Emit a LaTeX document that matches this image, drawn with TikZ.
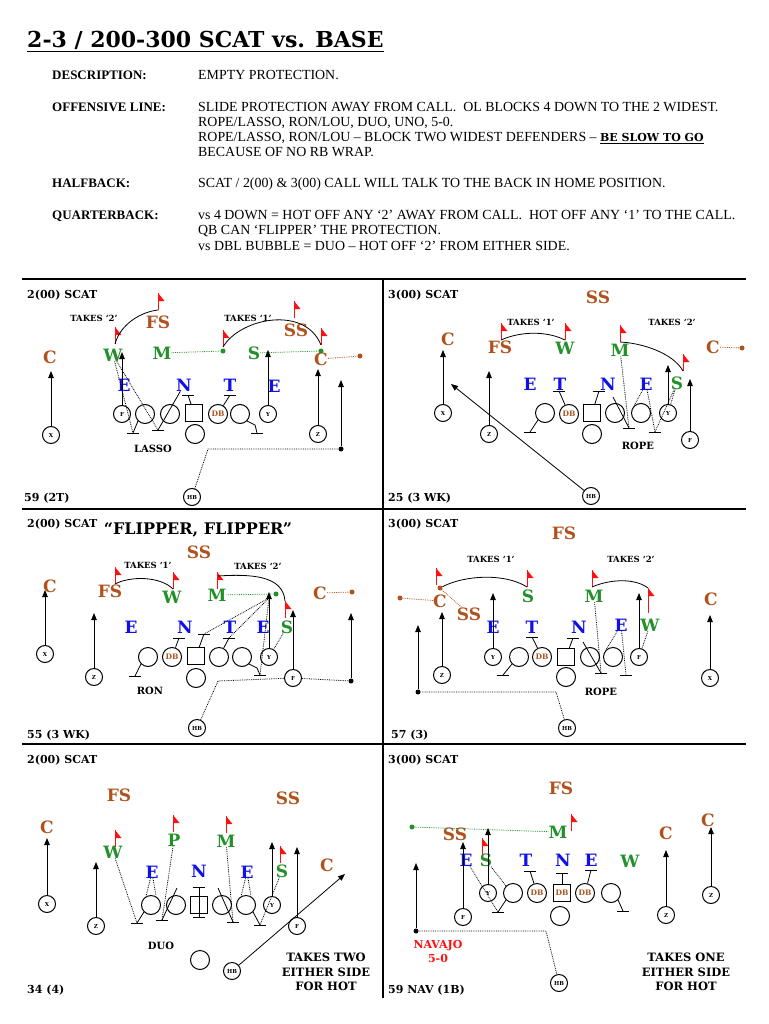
\documentclass[tikz,border=0pt]{standalone}
\usepackage{fontspec}
\setmainfont{Liberation Serif}
\newfontfamily\bkfont{DejaVu Serif}
\usetikzlibrary{arrows.meta}
\definecolor{secBrown}{HTML}{B0521E}
\definecolor{dlBlue}{HTML}{1010E8}
\definecolor{lbGreen}{HTML}{23902A}
\definecolor{flagRed}{HTML}{FF1010}

\tikzset{
  pennant/.pic={\draw[flagRed,line width=1pt] (0,0) -- (0,-17);
                \fill[flagRed] (0,-17) -- (6.5,-9) -- (0,-9) -- cycle;},
  blockbar/.pic={\draw[line width=1pt] (-6,0) -- (6,0);}
}

\begin{document}
\begin{tikzpicture}[x=1pt,y=-1pt,
  lbl/.style={font=\bkfont\bfseries\fontsize{11}{11}\selectfont,anchor=west,inner sep=0},
  takes/.style={font=\bkfont\bfseries\fontsize{8.5}{8.5}\selectfont,inner sep=0},
  dl/.style={font=\bkfont\bfseries\fontsize{17}{17}\selectfont,inner sep=0,text=dlBlue},
  lb/.style={dl,text=lbGreen},
  sec/.style={dl,text=secBrown},
  pl/.style={circle,draw,fill=white,line width=1pt,minimum size=17pt,inner sep=0,
             font=\bkfont\bfseries\fontsize{5.5}{5.5}\selectfont},
  ol/.style={circle,draw,fill=white,line width=1pt,minimum size=19pt,inner sep=0},
  dbc/.style={ol,text=secBrown,font=\bkfont\bfseries\fontsize{7.5}{7.5}\selectfont},
  ctr/.style={draw,fill=white,line width=1pt,minimum size=17pt,inner sep=0},
  run/.style={-{Triangle[length=7pt,width=5.5pt]},line width=0.8pt},
  hot/.style={densely dotted,line width=0.8pt},
  blk/.style={line width=0.8pt},
  ptdot/.style={circle,fill,inner sep=0,minimum size=5pt},
  call/.style={font=\bkfont\bfseries\fontsize{10}{10}\selectfont,inner sep=0},
  hotnote/.style={font=\bkfont\bfseries\fontsize{11.5}{14.5}\selectfont,align=center,inner sep=0},
  hd/.style={font=\bfseries\fontsize{13}{13}\selectfont,anchor=base west,inner sep=0},
  tx/.style={font=\fontsize{13.9}{14}\selectfont,anchor=base west,inner sep=0}
]
\fill[white] (0,0) rectangle (768,1024);

% Header
\node[anchor=base west,inner sep=0,font=\bkfont\bfseries\fontsize{22}{22}\selectfont] (title) at (27,48)
  {\underline{2-3 / 200-300 SCAT vs. BASE}};
\node[hd] (hDesc) at (52,80) {DESCRIPTION:};
\node[tx] (tDesc) at (198,80) {EMPTY PROTECTION.};
\node[hd] (hOL) at (52,112) {OFFENSIVE LINE:};
\node[tx] (tOL1) at (198,112) {SLIDE PROTECTION AWAY FROM CALL.\ \ OL BLOCKS 4 DOWN TO THE 2 WIDEST.};
\node[tx] (tOL2) at (198,127) {ROPE/LASSO, RON/LOU, DUO, UNO, 5-0.};
\node[tx] (tOL3) at (198,142) {ROPE/LASSO, RON/LOU – BLOCK TWO WIDEST DEFENDERS – {\bkfont\bfseries\fontsize{11}{11}\selectfont\underline{BE SLOW TO GO}}};
\node[tx] (tOL4) at (198,157) {BECAUSE OF NO RB WRAP.};
\node[hd] (hHB) at (52,188) {HALFBACK:};
\node[tx] (tHB) at (198,188) {SCAT / 2(00) \& 3(00) CALL WILL TALK TO THE BACK IN HOME POSITION.};
\node[hd] (hQB) at (52,219) {QUARTERBACK:};
\node[tx] (tQB1) at (198,219) {vs 4 DOWN = HOT OFF ANY ‘2’ AWAY FROM CALL.\ \ HOT OFF ANY ‘1’ TO THE CALL.};
\node[tx] (tQB2) at (198,234) {QB CAN ‘FLIPPER’ THE PROTECTION.};
\node[tx] (tQB3) at (198,250) {vs DBL BUBBLE = DUO – HOT OFF ‘2’ FROM EITHER SIDE.};

% Grid
\draw[line width=2.5pt] (22,279) -- (746,279) (22,509) -- (746,509) (22,744) -- (746,744);
\draw[line width=2.5pt] (383,279) -- (383,998);

% ---------- 2(00) SCAT / LASSO
\node[lbl] (aTitle) at (27,295) {2(00) SCAT};
\node[lbl] (aNum) at (24,498) {59 (2T)};
\node[takes] (aK2) at (94,318) {TAKES ‘2’};
\node[takes] (aK1) at (248,318) {TAKES ‘1’};
\node[sec] (aFS) at (158,322) {FS};
\node[sec] (aSS) at (296,330) {SS};
\node[sec] (aC1) at (50,357) {C};
\node[sec] (aC2) at (321,359) {C};
\node[lb] (aW) at (113,355) {W};
\node[lb] (aM) at (162,353) {M};
\node[lb] (aS) at (254,353) {S};
\node[dl] (aE1) at (124,385) {E};
\node[dl] (aDN) at (184,385) {N};
\node[dl] (aDT) at (230,385) {T};
\node[dl] (aE2) at (274,386) {E};
\node[pl] (aX) at (51,435) {X};
\node[pl] (aF) at (122,414) {F};
\node[ol] (aL1) at (145,414) {};
\node[ol] (aL2) at (170,414) {};
\node[ctr] (aCtr) at (194,413) {};
\node[ol] (aQB) at (195,434) {};
\node[dbc] (aDB) at (218,414) {DB};
\node[ol] (aL5) at (240,414) {};
\node[pl] (aY) at (268,414) {Y};
\node[pl] (aZ) at (318,434) {Z};
\node[pl] (aHB) at (192,497) {HB};
\node[call] (aCall) at (153,449) {LASSO};
\node[ptdot,lbGreen] (aMd) at (223,351) {};
\node[ptdot,lbGreen] (aSd) at (321,351) {};
\node[ptdot,secBrown] (aCd) at (360,356) {};
\node[ptdot] (aHd) at (341,449) {};
\coordinate (aFfs) at (158,310);
\coordinate (aFw) at (115,344);
\coordinate (aFm) at (223,347);
\coordinate (aFss) at (294,318);
\coordinate (aFc) at (321,345);
\coordinate (aB1) at (133,433);
\coordinate (aB2) at (158,430);
\coordinate (aB3) at (188,395);
\coordinate (aB4) at (230,395);
\coordinate (aB5) at (257,433);
\foreach \p in {aFfs,aFw,aFm,aFss,aFc} \pic at (\p) {pennant};
\foreach \p in {aB1,aB2,aB3,aB4,aB5} \pic at (\p) {blockbar};
\draw[blk] (aFw) .. controls +(5,-19) and +(-18,2) .. (aFfs);
\draw[blk] (aFm) .. controls +(17,-29) and +(-16,-40) .. (aFc);
\draw[hot,lbGreen] (aM) -- (aMd);
\draw[hot,lbGreen] (aS) -- (aSd);
\draw[hot,secBrown] (aC2) -- (aCd);
\draw[run] (aX) -- ++(0,-64);
\draw[run] (aF) -- ++(0,-62);
\draw[run] (aY) -- ++(0,-64);
\draw[run] (aZ) -- ++(0,-65);
\draw[hot] (aHB) -- (208,449) -- (aHd);
\draw[run] (aHd) -- ++(0,-69);
\draw[hot] (aW) -- (aB1);
\draw[hot] (aW) -- (aB2);
\draw[blk] (aL1.south west) -- (aB1);
\draw[blk] (aB2) -- (aDN);
\draw[blk] (aCtr) -- (aB3);
\draw[blk] (aDB) -- (aB4);
\draw[blk] (aL5.south east) -- ++(8,4) -- (aB5);

% ---------- 3(00) SCAT / ROPE
\node[lbl] (bTitle) at (388,295) {3(00) SCAT};
\node[lbl] (bNum) at (388,498) {25 (3 WK)};
\node[sec] (bSS) at (598,297) {SS};
\node[takes] (bK1) at (531,322) {TAKES ‘1’};
\node[takes] (bK2) at (672,322) {TAKES ‘2’};
\node[sec] (bFS) at (500,347) {FS};
\node[lb] (bW) at (565,348) {W};
\node[lb] (bM) at (620,350) {M};
\node[sec] (bC1) at (448,339) {C};
\node[sec] (bC2) at (713,347) {C};
\node[dl] (bE1) at (530,384) {E};
\node[dl] (bDT) at (560,384) {T};
\node[dl] (bDN) at (608,384) {N};
\node[dl] (bE2) at (646,384) {E};
\node[lb] (bS) at (677,383) {S};
\node[pl] (bX) at (443,413) {X};
\node[pl] (bZ) at (489,434) {Z};
\node[ol] (bL1) at (545,413) {};
\node[dbc] (bDB) at (569,414) {DB};
\node[ctr] (bCtr) at (592,413) {};
\node[ol] (bQB) at (592,434) {};
\node[ol] (bL4) at (615,413) {};
\node[ol] (bL5) at (641,413) {};
\node[pl] (bY) at (668,413) {Y};
\node[pl] (bF) at (690,440) {F};
\node[pl] (bHB) at (591,496) {HB};
\node[call] (bCall) at (638,446) {ROPE};
\node[ptdot,secBrown] (bCd) at (742,348) {};
\coordinate (bFfs) at (501,340);
\coordinate (bFw) at (565,340);
\coordinate (bFm) at (620,342);
\coordinate (bFs) at (683,371);
\coordinate (bB1) at (530,432);
\coordinate (bB2) at (559,391);
\coordinate (bB3) at (599,391);
\coordinate (bB4) at (629,428);
\coordinate (bB5) at (655,432);
\coordinate (bN0) at (613,397);
\foreach \p in {bFfs,bFw,bFm,bFs} \pic at (\p) {pennant};
\foreach \p in {bB1,bB2,bB3,bB4,bB5} \pic at (\p) {blockbar};
\draw[blk] (bFfs) .. controls +(20,-9) and +(-18,-9) .. (bFw);
\draw[blk] (bFm) .. controls +(22,1) and +(-10,-18) .. (bFs);
\draw[hot,secBrown] (bC2) -- (bCd);
\draw[run] (bX) -- ++(0,-63);
\draw[run] (bZ) -- ++(0,-63);
\draw[run] (bY) -- ++(0,-48);
\draw[run] (bF) -- ++(0,-61);
\draw[run] (bHB) -- ++(-140,-112);
\draw[blk] (bL1.south west) -- (bB1);
\draw[blk] (bDB) -- (bB2);
\draw[blk] (bCtr) -- (bB3);
\draw[blk] (bN0) -- (bB4);
\draw[hot] (bM) -- (bB4);
\draw[hot] (bE2) -- (bL5.north west);
\draw[hot] (bE2) -- (bB5);
\draw[hot] (bS) -- (bB5);
\draw[hot] (bS) -- (bY);

% ---------- 2(00) SCAT / RON (flipper)
\node[lbl] (cTitle) at (27,524) {2(00) SCAT};
\node[font=\bkfont\bfseries\fontsize{16}{16}\selectfont,inner sep=0] (cFlip) at (198,530) {“FLIPPER, FLIPPER”};
\node[lbl] (cNum) at (27,735) {55 (3 WK)};
\node[sec] (cSS) at (199,552) {SS};
\node[takes] (cK1) at (148,565) {TAKES ‘1’};
\node[takes] (cK2) at (258,566) {TAKES ‘2’};
\node[sec] (cFS) at (110,591) {FS};
\node[lb] (cW) at (172,597) {W};
\node[lb] (cM) at (217,595) {M};
\node[lb] (cS) at (287,627) {S};
\node[sec] (cC1) at (50,586) {C};
\node[sec] (cC2) at (320,593) {C};
\node[dl] (cE1) at (131,627) {E};
\node[dl] (cDN) at (185,627) {N};
\node[dl] (cDT) at (230,627) {T};
\node[dl] (cE2) at (263,627) {E};
\node[pl] (cX) at (45,654) {X};
\node[pl] (cZ) at (94,677) {Z};
\node[ol] (cL1) at (148,657) {};
\node[dbc] (cDB) at (172,657) {DB};
\node[ctr] (cCtr) at (196,656) {};
\node[ol] (cQB) at (196,678) {};
\node[ol] (cL4) at (219,657) {};
\node[ol] (cL5) at (242,657) {};
\node[pl] (cY) at (269,657) {Y};
\node[pl] (cF) at (293,678) {F};
\node[pl] (cHB) at (197,728) {HB};
\node[call] (cCall) at (150,691) {RON};
\node[ptdot,secBrown] (cCd) at (352,592) {};
\node[ptdot,lbGreen] (cMd) at (276,594) {};
\node[ptdot] (cHd) at (351,681) {};
\coordinate (cFfs) at (115,584);
\coordinate (cFw) at (173,589);
\coordinate (cFm) at (217,589);
\coordinate (cFs) at (285,618);
\coordinate (cA1) at (218,576);
\coordinate (cA2) at (285,601);
\coordinate (cP) at (269,598);
\coordinate (cB1) at (135,676);
\coordinate (cB2) at (179,638);
\coordinate (cB3) at (204,634);
\coordinate (cB4) at (229,638);
\coordinate (cB5) at (260,675);
\foreach \p in {cFfs,cFw,cFm,cFs} \pic at (\p) {pennant};
\foreach \p in {cB1,cB2,cB3,cB4,cB5} \pic at (\p) {blockbar};
\draw[blk] (cFfs) .. controls +(15,-8) and +(-13,-13) .. (cFw);
\draw[blk] (cA1) .. controls +(32,-2) and +(-2,-26) .. (cA2);
\draw[hot,lbGreen] (cM) -- (cMd);
\draw[hot,secBrown] (cC2) -- (cCd);
\draw[run] (cX) -- ++(0,-64);
\draw[run] (cZ) -- ++(0,-64);
\draw[run] (cY) -- ++(0,-65);
\draw[run] (cF) -- ++(0,-68);
\draw[hot] (cHB) -- (218,681) -- (cF);
\draw[hot] (cF) -- (cHd);
\draw[run] (cHd) -- ++(0,-68);
\draw[blk] (cL1.south west) -- (cB1);
\draw[blk] (cDB) -- (cB2);
\draw[blk] (cCtr) -- (cB3);
\draw[blk] (cL4) -- (cB4);
\draw[blk] (cL5.south east) -- ++(8,4) -- (cB5);
\draw[hot] (cP) -- (cB3);
\draw[hot] (cP) -- (cB4);
\draw[hot] (cP) -- (cB5);
\draw[hot] (cS) -- (cY);

% ---------- 3(00) SCAT / ROPE
\node[lbl] (dTitle) at (388,524) {3(00) SCAT};
\node[lbl] (dNum) at (391,735) {57 (3)};
\node[sec] (dFS) at (564,533) {FS};
\node[takes] (dK1) at (491,559) {TAKES ‘1’};
\node[takes] (dK2) at (631,559) {TAKES ‘2’};
\node[sec] (dC1) at (440,601) {C};
\node[sec] (dSS) at (469,614) {SS};
\node[lb] (dS) at (528,596) {S};
\node[lb] (dM) at (594,596) {M};
\node[lb] (dW) at (650,625) {W};
\node[sec] (dC2) at (711,599) {C};
\node[dl] (dE1) at (493,627) {E};
\node[dl] (dDT) at (532,627) {T};
\node[dl] (dDN) at (579,627) {N};
\node[dl] (dE2) at (621,625) {E};
\node[pl] (dY) at (493,657) {Y};
\node[ol] (dL1) at (519,657) {};
\node[dbc] (dDB) at (542,657) {DB};
\node[ctr] (dCtr) at (566,657) {};
\node[ol] (dQB) at (566,677) {};
\node[ol] (dL4) at (590,657) {};
\node[ol] (dL5) at (613,657) {};
\node[pl] (dF) at (639,657) {F};
\node[pl] (dZ) at (442,675) {Z};
\node[pl] (dX) at (710,678) {X};
\node[pl] (dHB) at (567,728) {HB};
\node[call] (dCall) at (601,692) {ROPE};
\node[ptdot,secBrown] (dCd) at (440,588) {};
\node[ptdot,secBrown] (dCl) at (400,598) {};
\node[ptdot] (dHd) at (418,692) {};
\coordinate (dFc) at (436,585);
\coordinate (dFs) at (527,587);
\coordinate (dFm) at (592,587);
\coordinate (dFw) at (648,605);
\coordinate (dA2) at (648,588);
\coordinate (dN0) at (583,642);
\coordinate (dB1) at (503,675);
\coordinate (dB2) at (532,637);
\coordinate (dB3) at (573,638);
\coordinate (dB4) at (601,673);
\coordinate (dB5) at (626,675);
\foreach \p in {dFc,dFs,dFm,dFw} \pic at (\p) {pennant};
\foreach \p in {dB1,dB2,dB3,dB4,dB5} \pic at (\p) {blockbar};
\draw[flagRed,line width=1pt] (dFw) -- ++(0,8);
\draw[blk] (dCd) .. controls +(25,-13) and +(-22,-14) .. (dFs);
\draw[blk] (dFm) .. controls +(18,-8) and +(-13,-10) .. (dA2);
\draw[hot,secBrown] (dC1) -- (dCl);
\draw[hot,secBrown] (dCd) -- (dSS);
\draw[run] (dY) -- ++(0,-64);
\draw[run] (dZ) -- ++(0,-63);
\draw[run] (dF) -- ++(0,-64);
\draw[run] (dX) -- ++(0,-63);
\draw[hot] (dHB) -- (556,692) -- (dHd);
\draw[run] (dHd) -- ++(0,-67);
\draw[blk] (dL1.south west) -- (dB1);
\draw[blk] (dDB) -- (dB2);
\draw[blk] (dCtr) -- (dB3);
\draw[blk] (dN0) -- (dB4);
\draw[hot] (dM) -- (dB4);
\draw[hot] (dE2) -- (dL5.north west);
\draw[hot] (dE2) -- (dB5);
\draw[hot] (dW) -- (dF);

% ---------- 2(00) SCAT / DUO
\node[lbl] (eTitle) at (27,760) {2(00) SCAT};
\node[lbl] (eNum) at (27,990) {34 (4)};
\node[sec] (eFS) at (119,795) {FS};
\node[sec] (eSS) at (288,798) {SS};
\node[sec] (eC1) at (47,827) {C};
\node[sec] (eC2) at (327,865) {C};
\node[lb] (eW) at (113,852) {W};
\node[lb] (eP) at (174,840) {P};
\node[lb] (eM) at (226,841) {M};
\node[lb] (eS) at (282,871) {S};
\node[dl] (eE1) at (152,872) {E};
\node[dl] (eDN) at (199,871) {N};
\node[dl] (eE2) at (247,872) {E};
\node[pl] (eX) at (47,904) {X};
\node[pl] (eZ) at (96,926) {Z};
\node[ol] (eL1) at (151,905) {};
\node[ol] (eL2) at (176,905) {};
\node[ctr] (eCtr) at (199,905) {};
\node[ol] (eL4) at (222,905) {};
\node[ol] (eL5) at (246,905) {};
\node[pl] (eY) at (272,905) {Y};
\node[pl] (eF) at (297,926) {F};
\node[ol] (eQB) at (200,960) {};
\node[pl] (eHB) at (232,971) {HB};
\node[call] (eCall) at (161,946) {DUO};
\node[hotnote] (eNote) at (326,972) {TAKES TWO\\EITHER SIDE\\FOR HOT};
\coordinate (eFw) at (115,847);
\coordinate (eFp) at (173,832);
\coordinate (eFm) at (226,833);
\coordinate (eFs) at (280,863);
\coordinate (eB1) at (137,923);
\coordinate (eB2) at (162,920);
\coordinate (eB3) at (233,922);
\coordinate (eB4) at (260,925);
\coordinate (eBt) at (199,887);
\coordinate (eBb) at (199,917);
\coordinate (eN0) at (177,888);
\coordinate (eN1) at (218,888);
\foreach \p in {eFw,eFp,eFm,eFs} \pic at (\p) {pennant};
\foreach \p in {eB1,eB2,eB3,eB4,eBt,eBb} \pic at (\p) {blockbar};
\draw[blk] (eBt) -- (eBb);
\draw[run] (eX) -- ++(0,-66);
\draw[run] (eZ) -- ++(0,-64);
\draw[run] (eY) -- ++(0,-63);
\draw[run] (eF) -- ++(0,-79);
\draw[run] (eHB) -- ++(113,-97);
\draw[blk] (eL1.225) -- (eB1);
\draw[blk] (eB2) -- (eN0);
\draw[blk] (eN1) -- (eB3);
\draw[blk] (eL5.-45) -- (eB4);
\draw[hot] (eW) -- (eB1);
\draw[hot] (eE1) -- (eL1.120);
\draw[hot] (eE1) -- (eL1.60);
\draw[hot] (eP) -- (eB2);
\draw[hot] (eM) -- (eB3);
\draw[hot] (eE2) -- (eL5.120);
\draw[hot] (eE2) -- (eL5.60);
\draw[hot] (eS) -- (eB4);

% ---------- 3(00) SCAT / NAVAJO 5-0
\node[lbl] (fTitle) at (388,760) {3(00) SCAT};
\node[lbl] (fNum) at (388,990) {59 NAV (1B)};
\node[sec] (fFS) at (561,788) {FS};
\node[lb] (fM) at (558,832) {M};
\node[sec] (fSS) at (455,834) {SS};
\node[sec] (fC1) at (666,833) {C};
\node[sec] (fC2) at (708,820) {C};
\node[dl] (fE1) at (466,860) {E};
\node[lb] (fS) at (486,860) {S};
\node[dl] (fDT) at (526,860) {T};
\node[dl] (fDN) at (563,860) {N};
\node[dl] (fE2) at (591,860) {E};
\node[lb] (fW) at (630,861) {W};
\node[pl] (fY) at (488,893) {Y};
\node[ol] (fL1) at (513,893) {};
\node[dbc] (fDB1) at (537,893) {DB};
\node[ctr,text=secBrown,font=\bkfont\bfseries\fontsize{7.5}{7.5}\selectfont] (fDB2) at (562,893) {DB};
\node[dbc] (fDB3) at (585,893) {DB};
\node[ol] (fL5) at (611,893) {};
\node[ol] (fQB) at (560,916) {};
\node[pl] (fF) at (463,917) {F};
\node[pl] (fZ1) at (666,915) {Z};
\node[pl] (fZ2) at (711,895) {Z};
\node[pl] (fHB) at (559,983) {HB};
\node[ptdot,lbGreen] (fMd) at (412,827) {};
\node[ptdot] (fHd) at (416,931) {};
\node[font=\bkfont\bfseries\fontsize{11}{14}\selectfont,text=flagRed,align=center,inner sep=0] (fNav) at (438,951) {NAVAJO\\5-0};
\node[hotnote] (fNote) at (686,972) {TAKES ONE\\EITHER SIDE\\FOR HOT};
\coordinate (fFm) at (571,831);
\coordinate (fFs) at (482,855);
\coordinate (fB1) at (498,912);
\coordinate (fB2) at (530,871);
\coordinate (fB3) at (562,873);
\coordinate (fB4) at (591,870);
\coordinate (fB5) at (623,911);
\foreach \p in {fFm,fFs} \pic at (\p) {pennant};
\foreach \p in {fB1,fB2,fB3,fB4,fB5} \pic at (\p) {blockbar};
\draw[hot,lbGreen] (fMd) -- (fM);
\draw[run] (fY) -- ++(0,-65);
\draw[run] (fF) -- ++(0,-75);
\draw[run] (fZ1) -- ++(0,-65);
\draw[run] (fZ2) -- ++(0,-68);
\draw[hot] (fHB) -- (546,931) -- (fHd);
\draw[run] (fHd) -- ++(0,-68);
\draw[blk] (fL1.south west) -- (fB1);
\draw[blk] (fDB1) -- (fB2);
\draw[blk] (fDB2) -- (fB3);
\draw[blk] (fDB3) -- (fB4);
\draw[blk] (fL5.south east) -- (fB5);
\draw[hot] (fE1) -- (fB1);
\draw[hot] (fS) -- (fL1.north west);
\end{tikzpicture}
\end{document}
